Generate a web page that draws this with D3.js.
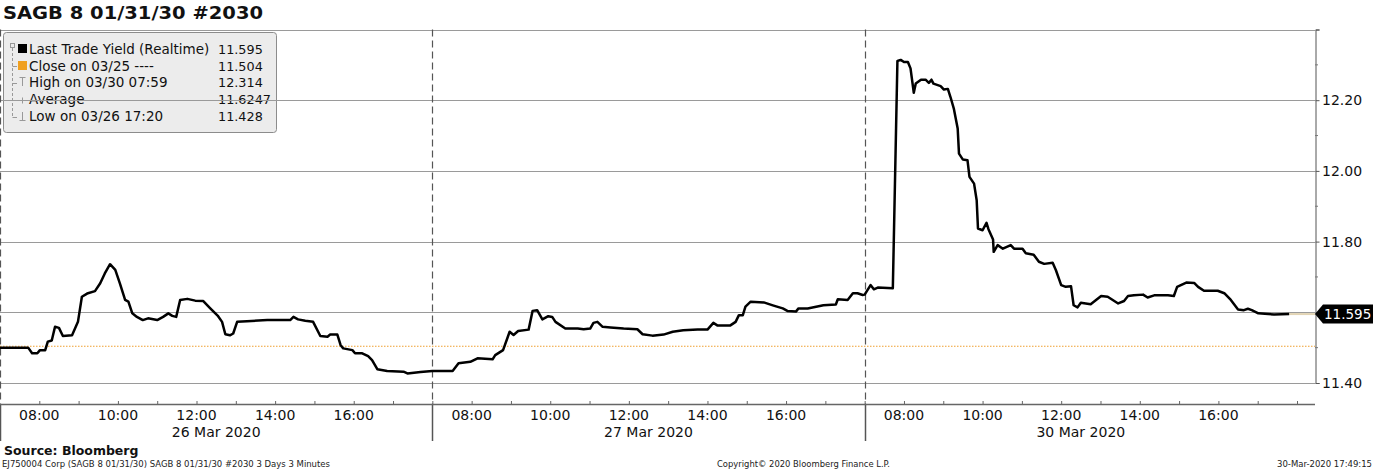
<!DOCTYPE html>
<html><head><meta charset="utf-8">
<script src="https://cdn.jsdelivr.net/npm/d3@7"></script>
<style>body{margin:0;background:#fff}svg{display:block;font-family:"DejaVu Sans",sans-serif}</style>
</head><body><svg id="c" width="1373" height="471"></svg>
<script>
const title = "SAGB 8 01/31/30 #2030";
const days = ["26 Mar 2020", "27 Mar 2020", "30 Mar 2020"];
const hourTicks = ["08:00", "10:00", "12:00", "14:00", "16:00"];
const yTicks = [11.40, 11.60, 11.80, 12.00, 12.20, 12.40];
const yLabelled = [11.40, 11.80, 12.00, 12.20];
const closeValue = 11.504;
const lastValue = 11.595;
const legendNames = ["Last Trade Yield (Realtime)", "Close on 03/25 ----", "High on 03/30 07:59", "Average", "Low on 03/26 17:20"];
const legendValues = ["11.595", "11.504", "12.314", "11.6247", "11.428"];

const mar26Time = ["07:00","07:43","07:49","07:57","08:01","08:09","08:13","08:19","08:24","08:30","08:36","08:50","08:59","09:05","09:13","09:25","09:33","09:40","09:48","09:56","10:03","10:11","10:16","10:22","10:29","10:38","10:46","11:00","11:09","11:17","11:23","11:29","11:35","11:46","11:58","12:10","12:21","12:33","12:39","12:44","12:51","12:56","13:02","13:17","13:48","14:23","14:28","14:35","14:46","14:58","15:09","15:20","15:24","15:35","15:40","15:44","15:58","16:02","16:13","16:22","16:28","16:36","16:51","17:16","17:22","17:42","18:00"];
const mar26Yield = [11.500,11.500,11.484,11.484,11.493,11.493,11.517,11.520,11.559,11.556,11.533,11.535,11.573,11.644,11.653,11.660,11.682,11.710,11.736,11.720,11.682,11.635,11.630,11.597,11.587,11.578,11.583,11.578,11.587,11.597,11.590,11.587,11.635,11.638,11.633,11.632,11.611,11.589,11.573,11.538,11.535,11.540,11.573,11.575,11.578,11.578,11.587,11.580,11.576,11.573,11.533,11.531,11.537,11.537,11.507,11.498,11.493,11.484,11.484,11.476,11.465,11.439,11.434,11.432,11.427,11.431,11.434];

const mar27Time = ["07:00","07:31","07:40","07:58","08:09","08:32","08:36","08:48","08:58","09:04","09:11","09:27","09:33","09:40","09:48","09:57","10:03","10:08","10:23","10:42","10:51","11:01","11:06","11:12","11:20","11:32","11:52","12:13","12:21","12:36","12:53","13:07","13:23","13:45","14:00","14:09","14:15","14:35","14:43","14:48","14:54","14:58","15:06","15:26","15:41","15:55","16:02","16:15","16:19","16:33","16:57","17:16","17:19","17:34","17:42","17:49","17:57"];
const mar27Yield = [11.434,11.434,11.456,11.460,11.470,11.467,11.479,11.493,11.545,11.536,11.547,11.551,11.604,11.606,11.580,11.589,11.587,11.573,11.554,11.554,11.552,11.554,11.570,11.573,11.559,11.557,11.554,11.552,11.538,11.534,11.537,11.545,11.549,11.551,11.551,11.570,11.563,11.563,11.573,11.592,11.592,11.616,11.630,11.628,11.619,11.611,11.604,11.602,11.611,11.611,11.620,11.622,11.637,11.635,11.654,11.654,11.649];

const mar30Time = ["07:00","07:09","07:14","07:20","07:43","07:50","07:55","08:00","08:06","08:10","08:15","08:18","08:26","08:33","08:38","08:42","08:45","08:56","09:01","09:07","09:11","09:16","09:22","09:24","09:30","09:37","09:40","09:47","09:51","09:53","10:00","10:06","10:09","10:16","10:17","10:23","10:31","10:43","10:48","11:01","11:06","11:18","11:26","11:34","11:47","11:52","12:00","12:07","12:15","12:19","12:25","12:30","12:45","13:01","13:11","13:27","13:36","13:42","13:51","14:05","14:12","14:22","14:43","14:52","14:57","15:11","15:23","15:29","15:38","15:59","16:09","16:19","16:30","16:39","16:45","16:51","17:01","17:16","17:25","17:48"];
const mar30Yield = [11.650,11.677,11.665,11.670,11.668,12.311,12.314,12.308,12.308,12.290,12.221,12.247,12.258,12.258,12.249,12.258,12.247,12.240,12.230,12.232,12.209,12.177,12.120,12.049,12.032,12.030,11.983,11.964,11.917,11.837,11.832,11.853,11.835,11.806,11.771,11.790,11.780,11.790,11.780,11.780,11.767,11.763,11.743,11.737,11.740,11.719,11.677,11.672,11.674,11.620,11.614,11.627,11.623,11.646,11.644,11.625,11.632,11.646,11.648,11.650,11.642,11.648,11.648,11.646,11.672,11.684,11.683,11.672,11.661,11.661,11.654,11.635,11.608,11.606,11.610,11.606,11.597,11.595,11.594,11.595];

const SESSION_OPEN = 7, SESSION_HOURS = 11;
function tOf(dayIdx, hhmm) {
  const [h, m] = hhmm.split(":").map(Number);
  return dayIdx * SESSION_HOURS + (h + m / 60 - SESSION_OPEN);
}
const series = [];
[[mar26Time, mar26Yield], [mar27Time, mar27Yield], [mar30Time, mar30Yield]].forEach(([ts, vs], d) => {
  ts.forEach((t, i) => series.push({t: tOf(d, t), v: vs[i]}));
});

const svg = d3.select("#c");
const W = 1373, H = 471;
const plotL = 0, plotR = 1315, plotT = 29.5, plotB = 404;
const x = d3.scaleLinear().domain([0, 3 * SESSION_HOURS]).range([0, 1297]);
const y = d3.scaleLinear().domain([11.4, 12.4]).range([383, 29.5]);

// title
svg.append("text").attr("x", 3).attr("y", 19).attr("font-weight", "bold").attr("font-size", 18.5)
  .attr("textLength", 260).attr("lengthAdjust", "spacingAndGlyphs").attr("fill", "#111").text(title);

// legend box
const lg = svg.append("g");
lg.append("rect").attr("x", 3.5).attr("y", 32.5).attr("width", 273).attr("height", 100).attr("rx", 3)
  .attr("fill", "#ececec").attr("stroke", "#8c8c8c");

// gridlines
svg.append("g").selectAll("line").data(yTicks).join("line")
  .attr("x1", plotL).attr("x2", plotR).attr("y1", d => Math.round(y(d)) + 0.5).attr("y2", d => Math.round(y(d)) + 0.5)
  .attr("stroke", "#9a9a9a").attr("stroke-width", 1);

// legend contents
const rowY = [54, 70.7, 87.3, 104, 120.7];
lg.selectAll("text.n").data(legendNames).join("text").attr("class", "n")
  .attr("x", 29).attr("y", (d, i) => rowY[i]).attr("font-size", 13.5).attr("fill", "#111").text(d => d);
lg.selectAll("text.v").data(legendValues).join("text").attr("class", "v")
  .attr("x", 218).attr("y", (d, i) => rowY[i]).attr("font-size", 12.8).attr("fill", "#111").text(d => d);
const ic = svg.append("g").attr("stroke", "#999").attr("fill", "none");
ic.append("rect").attr("x", 10.5).attr("y", 43.5).attr("width", 4).attr("height", 4);
ic.append("line").attr("x1", 12.5).attr("x2", 12.5).attr("y1", 48).attr("y2", 117).attr("stroke-dasharray", "3,2");
[66, 83, 117].forEach(yy => ic.append("line").attr("x1", 12.5).attr("x2", 17).attr("y1", yy + 0.5).attr("y2", yy + 0.5));
svg.append("rect").attr("x", 18).attr("y", 44).attr("width", 9).attr("height", 9).attr("fill", "#000");
svg.append("rect").attr("x", 18).attr("y", 61).attr("width", 9).attr("height", 9).attr("fill", "#f0a020");
ic.append("path").attr("d", "M19.5,77.5H25.5M22.5,77.5V86");
ic.append("path").attr("d", "M17,100.5H28M22.5,97.5V103.5");
ic.append("path").attr("d", "M19.5,120.5H25.5M22.5,112V120.5");

// close line
svg.append("line").attr("x1", plotL).attr("x2", plotR).attr("y1", y(closeValue)).attr("y2", y(closeValue))
  .attr("stroke", "#f0a030").attr("stroke-width", 1.2).attr("stroke-dasharray", "1.5,1.5");

// day separators
const sepX = [0, SESSION_HOURS, 2 * SESSION_HOURS].map(d => Math.max(0.5, Math.round(x(d)) + 0.5));
svg.append("g").selectAll("line").data(sepX).join("line")
  .attr("x1", d => d).attr("x2", d => d).attr("y1", plotT).attr("y2", plotB)
  .attr("stroke", "#555").attr("stroke-width", 1.2).attr("stroke-dasharray", "7,4");
svg.append("g").selectAll("line").data(sepX).join("line")
  .attr("x1", d => d).attr("x2", d => d).attr("y1", plotB).attr("y2", 441)
  .attr("stroke", "#555").attr("stroke-width", 1.5);

// last value extension
const lastPt = series[series.length - 1];
svg.append("line").attr("x1", x(lastPt.t)).attr("x2", plotR).attr("y1", y(lastValue)).attr("y2", y(lastValue))
  .attr("stroke", "#e2d4b4").attr("stroke-width", 2);

// line
svg.append("path").datum(series).attr("fill", "none").attr("stroke", "#000").attr("stroke-width", 2.5)
  .attr("stroke-linejoin", "round")
  .attr("d", d3.line().x(d => x(d.t)).y(d => y(d.v)));

// x axis
const allHours = [];
for (let d = 0; d < 3; d++) for (let h = 8; h <= 18; h++) allHours.push(d * SESSION_HOURS + h - SESSION_OPEN);
const xAxis = svg.append("g").attr("transform", `translate(0,${plotB})`)
  .call(d3.axisBottom(x).tickValues(allHours).tickSize(-3).tickFormat(""));
xAxis.select(".domain").remove();
xAxis.selectAll(".tick line").attr("stroke", "#666");
svg.append("line").attr("x1", 0).attr("x2", plotR).attr("y1", plotB + 0.5).attr("y2", plotB + 0.5).attr("stroke", "#666").attr("stroke-width", 1.5);
const labelT = [];
days.forEach((dname, d) => hourTicks.forEach(ht => labelT.push({t: tOf(d, ht), s: ht})));
svg.append("g").selectAll("text").data(labelT).join("text")
  .attr("x", d => x(d.t)).attr("y", 420).attr("text-anchor", "middle").attr("font-size", 14).attr("fill", "#111").text(d => d.s);
svg.append("g").selectAll("text").data(days).join("text")
  .attr("x", (d, i) => x(i * SESSION_HOURS + SESSION_HOURS / 2)).attr("y", 437).attr("text-anchor", "middle")
  .attr("font-size", 14).attr("fill", "#111").text(d => d);

// y axis
const yAxis = svg.append("g").attr("transform", `translate(${plotR + 0.5},0)`)
  .call(d3.axisRight(y).tickValues(yTicks).tickSize(4).tickFormat(""));
yAxis.select(".domain").attr("stroke", "#555");
yAxis.selectAll(".tick line").attr("stroke", "#555");
const minorY = d3.range(11.5, 12.35, 0.2);
svg.append("g").selectAll("line").data(minorY).join("line")
  .attr("x1", plotR).attr("x2", plotR + 3).attr("y1", d => y(d)).attr("y2", d => y(d)).attr("stroke", "#777");
svg.append("g").selectAll("text").data(yLabelled).join("text")
  .attr("x", 1322).attr("y", d => y(d) + 5).attr("font-size", 14).attr("fill", "#111").text(d => d.toFixed(2));

// last value tag
const ty = y(lastValue);
svg.append("path").attr("d", `M${plotR},${ty}L${plotR + 8},${ty - 9.5}H${W}V${ty + 9.5}H${plotR + 8}Z`).attr("fill", "#000");
svg.append("text").attr("x", 1324).attr("y", ty + 5).attr("font-size", 13.5).attr("fill", "#fff").text(lastValue.toFixed(3));

// footer
svg.append("text").attr("x", 4).attr("y", 455).attr("font-weight", "bold").attr("font-size", 12.5).attr("fill", "#111").text("Source: Bloomberg");
svg.append("text").attr("x", 2).attr("y", 467).attr("font-size", 8.5).attr("fill", "#222")
  .attr("textLength", 328).attr("lengthAdjust", "spacingAndGlyphs").text("EJ750004 Corp (SAGB 8 01/31/30) SAGB 8 01/31/30 #2030 3 Days 3 Minutes");
svg.append("text").attr("x", 717).attr("y", 467).attr("font-size", 8.5).attr("fill", "#222")
  .attr("textLength", 173).attr("lengthAdjust", "spacingAndGlyphs").text("Copyright\u00a9 2020 Bloomberg Finance L.P.");
svg.append("text").attr("x", 1372).attr("y", 467).attr("font-size", 8.5).attr("fill", "#222").attr("text-anchor", "end")
  .text("30-Mar-2020 17:49:15");
</script></body></html>
